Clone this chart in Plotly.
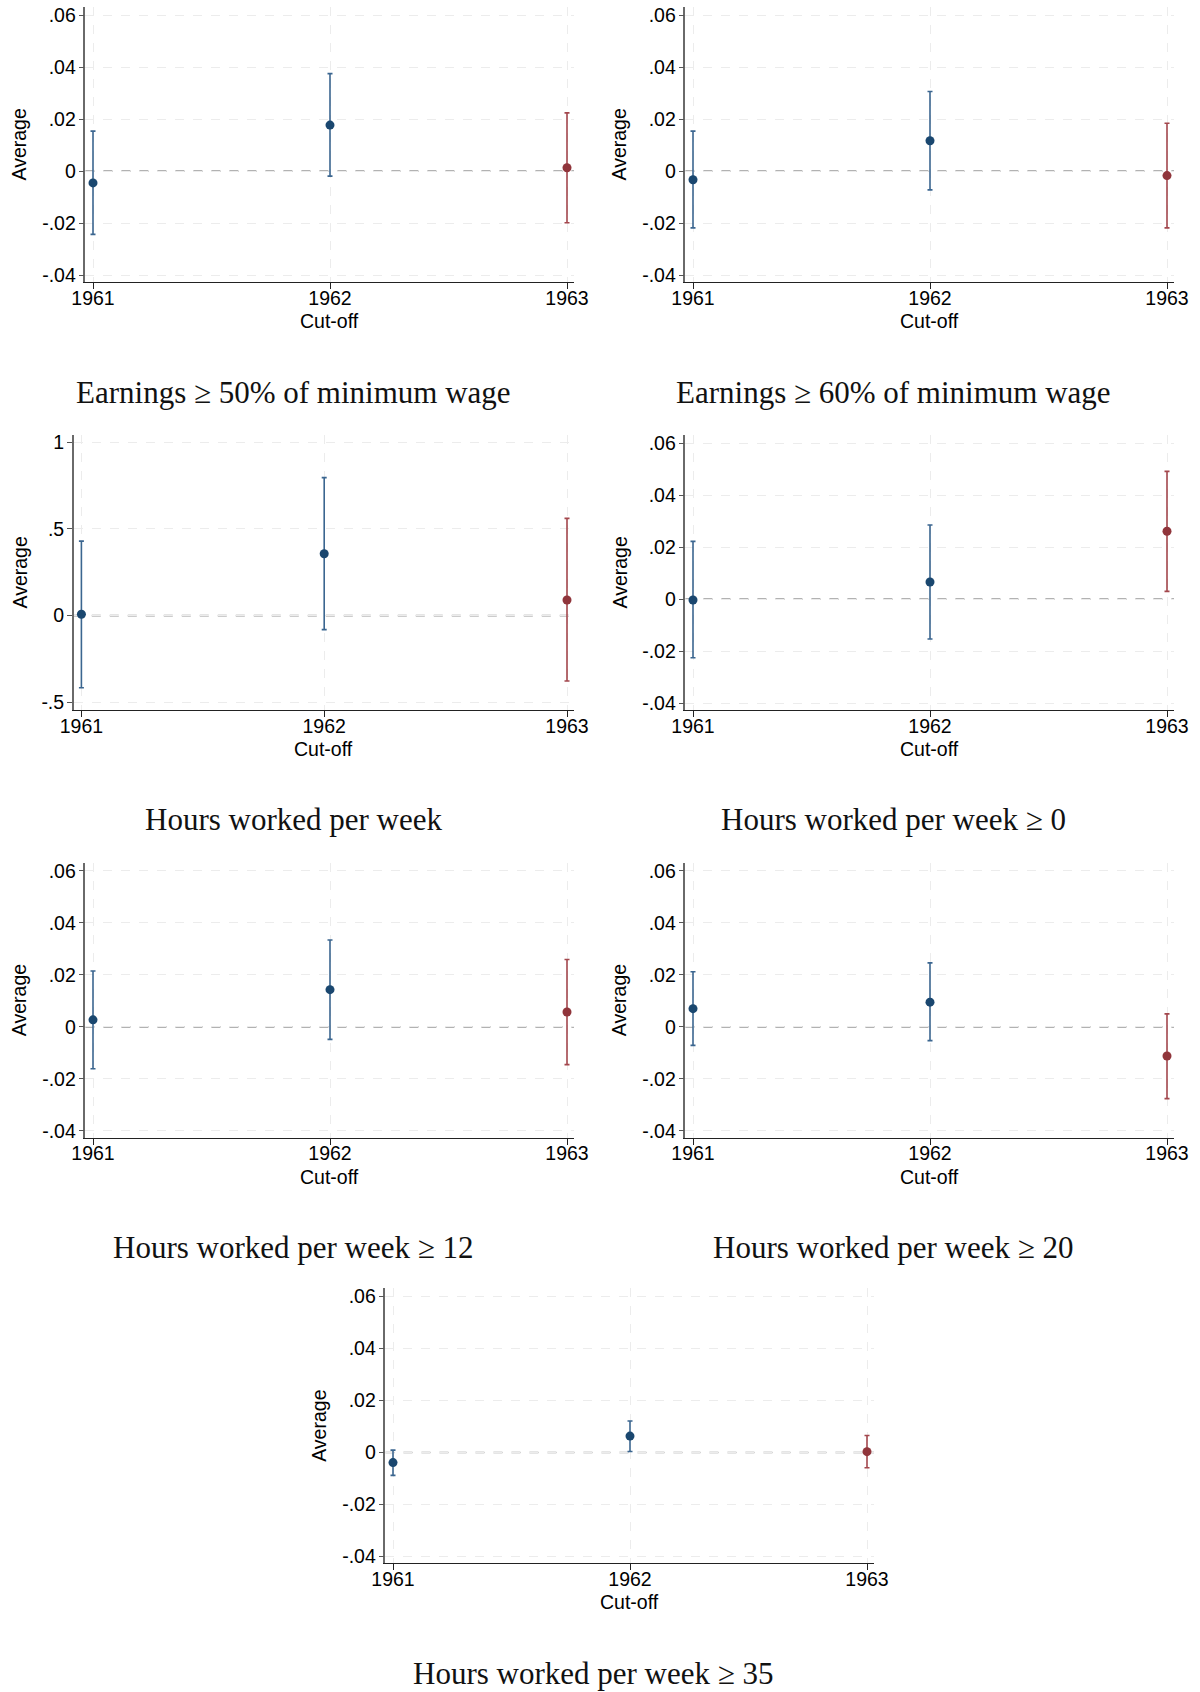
import plotly.graph_objects as go

# ---------------- data ----------------
years = [1961, 1962, 1963]

titles = [
    "Earnings ≥ 50% of minimum wage",
    "Earnings ≥ 60% of minimum wage",
    "Hours worked per week",
    "Hours worked per week ≥ 0",
    "Hours worked per week ≥ 12",
    "Hours worked per week ≥ 20",
    "Hours worked per week ≥ 35",
]

est_e50 = [-0.0045, 0.0177, 0.0013]
lo_e50 = [-0.0243, -0.0019, -0.0198]
hi_e50 = [0.0154, 0.0375, 0.0224]

est_e60 = [-0.0033, 0.0117, -0.0017]
lo_e60 = [-0.0218, -0.0072, -0.0218]
hi_e60 = [0.0154, 0.0306, 0.0184]

est_hrs = [0.008, 0.356, 0.090]
lo_hrs = [-0.416, -0.081, -0.377]
hi_hrs = [0.429, 0.795, 0.560]

est_h0 = [-0.0003, 0.0066, 0.0261]
lo_h0 = [-0.0225, -0.0153, 0.0030]
hi_h0 = [0.0222, 0.0285, 0.0491]

est_h12 = [0.0027, 0.0143, 0.0057]
lo_h12 = [-0.0161, -0.0048, -0.0145]
hi_h12 = [0.0215, 0.0334, 0.0259]

est_h20 = [0.0070, 0.0095, -0.0112]
lo_h20 = [-0.0071, -0.0053, -0.0276]
hi_h20 = [0.0212, 0.0246, 0.0050]

est_h35 = [-0.0039, 0.0063, 0.0003]
lo_h35 = [-0.0088, 0.0004, -0.0059]
hi_h35 = [0.0009, 0.0121, 0.0065]

share_ticks = [-0.04, -0.02, 0, 0.02, 0.04, 0.06]
share_ticktext = ["-.04", "-.02", "0", ".02", ".04", ".06"]
hours_ticks = [-0.5, 0, 0.5, 1]
hours_ticktext = ["-.5", "0", ".5", "1"]

x_label = "Cut-off"
y_label = "Average"

series = [
    (est_e50, lo_e50, hi_e50),
    (est_e60, lo_e60, hi_e60),
    (est_hrs, lo_hrs, hi_hrs),
    (est_h0, lo_h0, hi_h0),
    (est_h12, lo_h12, hi_h12),
    (est_h20, lo_h20, hi_h20),
    (est_h35, lo_h35, hi_h35),
]

# ---------------- layout geometry (pixels) ----------------
W, H = 1200, 1692
row_tops = [7, 435, 862.7, 1288.3]
plot_h = 275
panels = [
    dict(l=85.4, r=574, row=0, hours=False),
    dict(l=685.4, r=1174, row=0, hours=False),
    dict(l=73.8, r=574, row=1, hours=True),
    dict(l=685.4, r=1174, row=1, hours=False),
    dict(l=85.4, r=574, row=2, hours=False),
    dict(l=685.4, r=1174, row=2, hours=False),
    dict(l=385.4, r=874, row=3, hours=False),
]
label_x = [19, 619, 19, 619, 19, 619, 319]
title_x = [293, 893, 293, 893, 293, 893, 593]

NAVY = "#1a476f"
NAVY_CI = "#3b6690"
RED = "#90353b"
RED_CI = "#a3474d"

sans = "Liberation Sans, Arial, sans-serif"
serif = "Liberation Serif, Times New Roman, serif"

fig = go.Figure()
layout = dict(
    template="none",
    width=W, height=H,
    margin=dict(l=0, r=0, t=0, b=0, pad=0, autoexpand=False),
    paper_bgcolor="white", plot_bgcolor="white",
    showlegend=False,
    font=dict(family=sans, size=19, color="#000"),
)
annotations = []
shapes = []

for i, (p, (est, lo, hi)) in enumerate(zip(panels, series)):
    n = i + 1
    xa = "x" if n == 1 else f"x{n}"
    ya = "y" if n == 1 else f"y{n}"
    xkey = "xaxis" if n == 1 else f"xaxis{n}"
    ykey = "yaxis" if n == 1 else f"yaxis{n}"
    top = row_tops[p["row"]]
    bot = top + plot_h

    in_l, in_r = 7.6, 7.0
    per_year = (p["r"] - p["l"] - in_l - in_r) / 2.0
    xr = [1961 - in_l / per_year, 1963 + in_r / per_year]

    if p["hours"]:
        yr = [-0.5439, 1.0404]
        tv, tt = hours_ticks, hours_ticktext
    else:
        yr = [-0.0426, 0.0631]
        tv, tt = share_ticks, share_ticktext

    layout[xkey] = dict(
        domain=[p["l"] / W, p["r"] / W], anchor=ya, range=xr,
        tickvals=years, ticktext=[str(y) for y in years],
        ticks="outside", ticklen=6, tickcolor="#222", tickwidth=1,
        ticklabelstandoff=-8,
        showline=True, linecolor="#222", linewidth=1.3,
        showgrid=True, gridcolor="#ececec", griddash="dash", gridwidth=1,
        zeroline=False, automargin=False,
        tickfont=dict(family=sans, size=19.5, color="#000"),
        fixedrange=True,
    )
    layout[ykey] = dict(
        domain=[1 - bot / H, 1 - top / H], anchor=xa, range=yr,
        tickvals=tv, ticktext=tt,
        ticks="outside", ticklen=5, tickcolor="#555", tickwidth=1,
        ticklabelstandoff=-1,
        showline=True, linecolor="#6a6a6a", linewidth=1.5,
        showgrid=True, gridcolor="#ececec", griddash="dash", gridwidth=1,
        zeroline=False, automargin=False,
        tickfont=dict(family=sans, size=19.5, color="#000"),
        fixedrange=True,
    )

    shapes.append(dict(type="line", xref=f"{xa} domain", yref=ya,
                       x0=0, x1=1, y0=0, y1=0,
                       line=dict(color="#999999", width=1.6, dash="dash"),
                       layer="below"))

    groups = [([0, 1], NAVY, NAVY_CI), ([2], RED, RED_CI)]
    for idx, mc, cc in groups:
        xs = [years[k] for k in idx]
        ys = [est[k] for k in idx]
        up = [hi[k] - est[k] for k in idx]
        dn = [est[k] - lo[k] for k in idx]
        fig.add_trace(go.Scatter(
            x=xs, y=ys, xaxis=xa, yaxis=ya, mode="markers",
            marker=dict(color=mc, size=9, line=dict(width=0)),
            error_y=dict(type="data", symmetric=False, array=up, arrayminus=dn,
                         color=cc, thickness=1.6, width=2.5),
            hoverinfo="skip",
        ))

    annotations.append(dict(
        text=y_label, textangle=-90, xref="paper", yref="paper",
        x=label_x[i] / W, y=1 - (top + plot_h / 2) / H,
        xanchor="center", yanchor="middle", showarrow=False,
        font=dict(family=sans, size=19.5, color="#000")))
    annotations.append(dict(
        text=x_label, xref="paper", yref="paper",
        x=(p["l"] + p["r"]) / 2 / W, y=1 - (top + 314) / H,
        xanchor="center", yanchor="middle", showarrow=False,
        font=dict(family=sans, size=19.5, color="#000")))
    annotations.append(dict(
        text=titles[i], xref="paper", yref="paper",
        x=title_x[i] / W, y=1 - (top + 385) / H,
        xanchor="center", yanchor="middle", showarrow=False,
        font=dict(family=serif, size=31, color="#111")))

layout["annotations"] = annotations
layout["shapes"] = shapes
fig.update_layout(**layout)
fig.write_html(
    "out.html",
    config={"displayModeBar": False},
    post_script="document.body.style.margin='0';document.body.style.overflow='hidden';",
)
